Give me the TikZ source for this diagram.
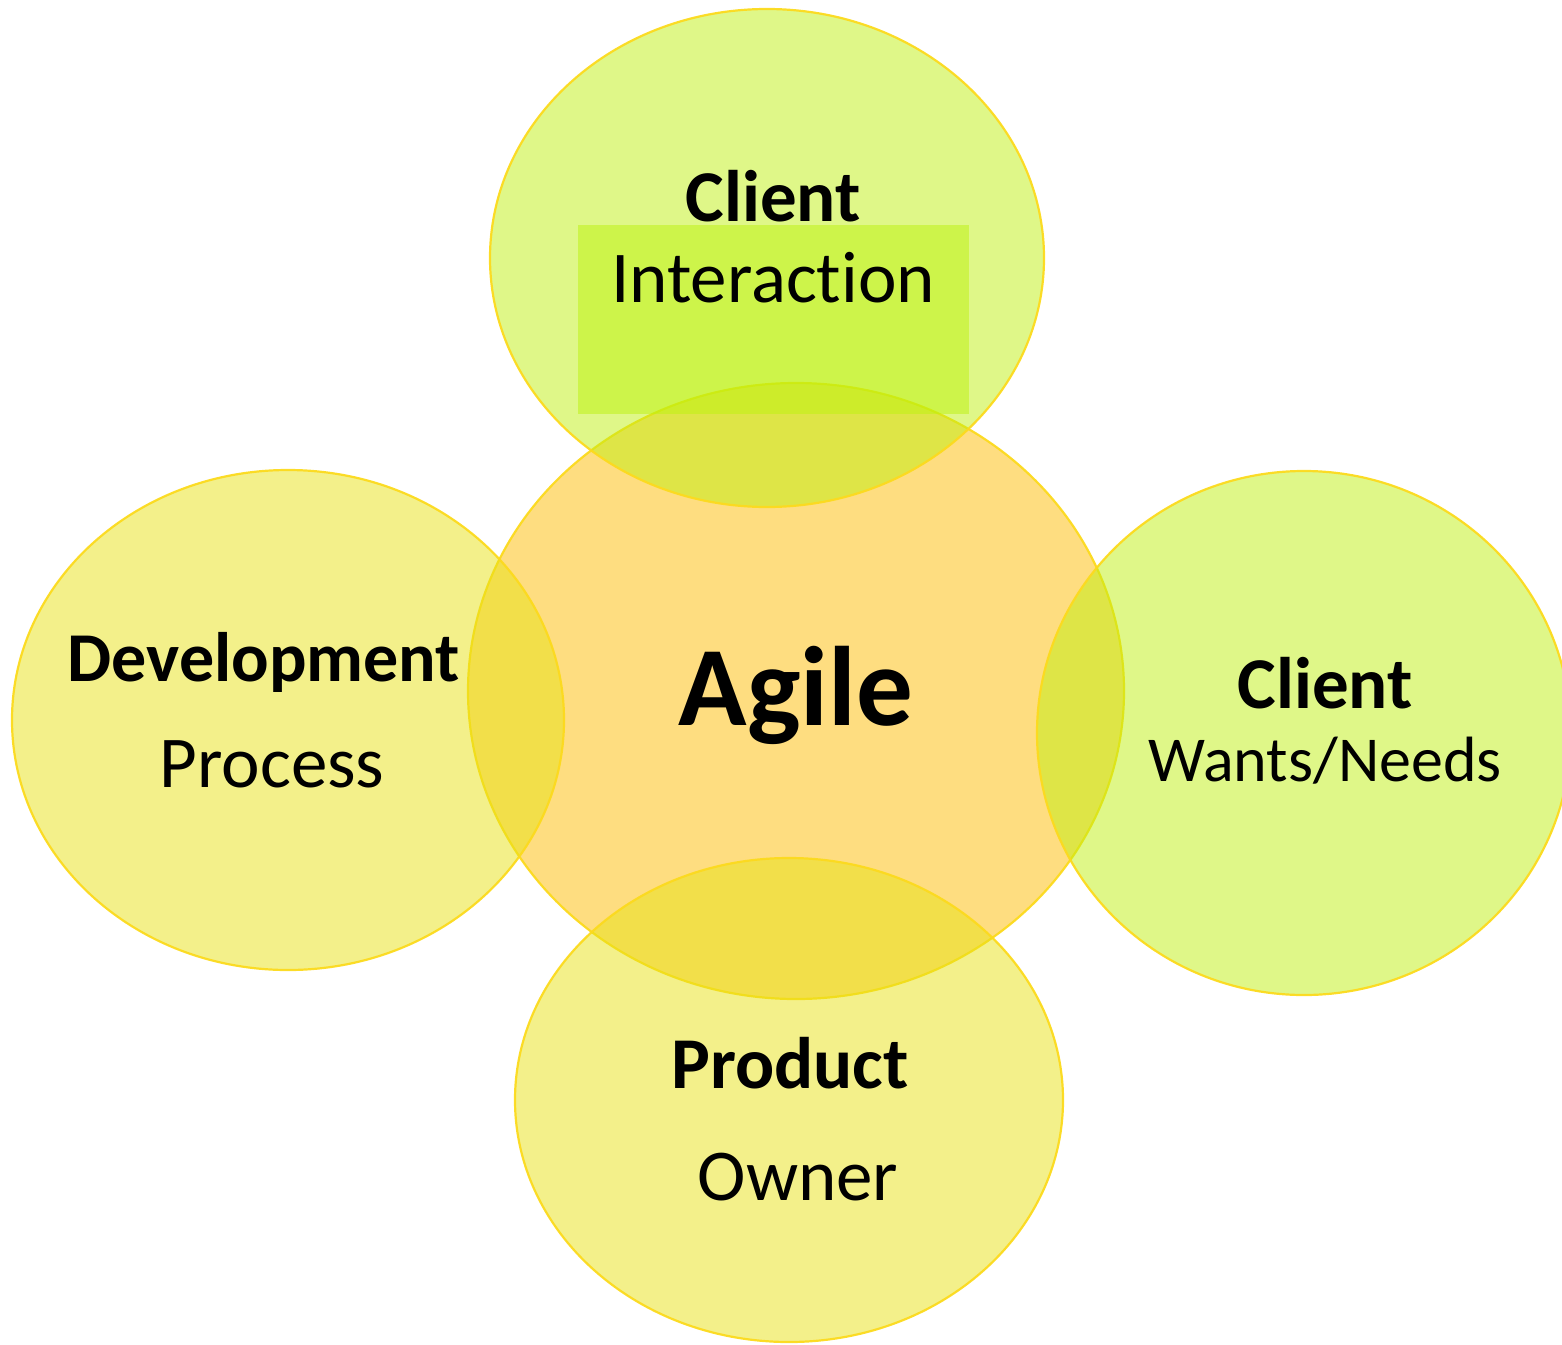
\documentclass[tikz,border=0pt]{standalone}
\usepackage{fontspec}
\setmainfont[Ligatures=NoCommon]{Carlito}
\usetikzlibrary{shapes.geometric}
\definecolor{cbase}{RGB}{253,187,1}
\definecolor{ybase}{RGB}{231,225,21}
\definecolor{gbase}{RGB}{191,239,17}
\definecolor{rbase}{RGB}{189,243,14}
\definecolor{edge}{RGB}{252,218,30}
\tikzset{
  x=1pt,y=-1pt,
  blob/.style={ellipse, inner sep=0pt, draw=edge, line width=2.2pt, fill opacity=0.5, draw opacity=0.95},
  hd/.style={anchor=base, inner sep=0pt, font=\fontsize{73}{80}\selectfont\bfseries},
  tx/.style={anchor=base, inner sep=0pt, font=\fontsize{73}{80}\selectfont},
}
\begin{document}
\begin{tikzpicture}
\useasboundingbox (0,0) rectangle (1562,1344);
\clip (0,0) rectangle (1562,1344);
\node[blob, fill=cbase, minimum width=656pt, minimum height=616pt] (agile) at (796,691) {};
\node[blob, fill=ybase, minimum width=552pt, minimum height=500pt] (dev) at (288,720) {};
\node[blob, fill=gbase, minimum width=534pt, minimum height=524pt] (want) at (1304,733) {};
\node[blob, fill=gbase, minimum width=554pt, minimum height=498pt] (inter) at (767,258) {};
\node[blob, fill=ybase, minimum width=548pt, minimum height=484pt] (prod) at (789,1100) {};
\node[draw=none, fill=rbase, fill opacity=0.5, inner sep=0pt, minimum width=391pt, minimum height=189pt] (box) at (773.5,319.5) {};
\node[hd] (t1) at (773,221) {Client};
\node[tx] (t2) at (773,302) {Interaction};
\node[anchor=base, inner sep=0pt, font=\fontsize{113}{120}\selectfont\bfseries] (t3) at (796,725) {Agile};
\node[hd, font=\fontsize{70}{80}\selectfont\bfseries] (t4) at (264,681) {Development};
\node[tx] (t5) at (272,787) {Process};
\node[hd] (t6) at (1325,708) {Client};
\node[tx, font=\fontsize{64}{70}\selectfont] (t7) at (1325,781) {Wants/Needs};
\node[hd] (t8) at (790,1088) {Product};
\node[tx] (t9) at (798,1200) {Owner};
\end{tikzpicture}
\end{document}
